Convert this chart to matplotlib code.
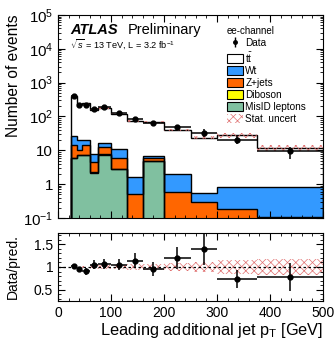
import numpy as np
import matplotlib
matplotlib.use('Agg')
from matplotlib import pyplot as plt
from matplotlib.patches import Patch
from matplotlib.ticker import FixedLocator, MultipleLocator, FuncFormatter, LogLocator, NullFormatter

plt.rcParams['font.family'] = ['Liberation Sans', 'DejaVu Sans']
plt.rcParams['mathtext.fontset'] = 'custom'
plt.rcParams['mathtext.rm'] = 'Liberation Sans'
plt.rcParams['mathtext.it'] = 'Liberation Sans:italic'
plt.rcParams['mathtext.bf'] = 'Liberation Sans:bold'
plt.rcParams['hatch.linewidth'] = 0.5

# bin edges in GeV
edges = np.array([25, 35, 45, 60, 75, 100, 130, 160, 200, 250, 300, 375, 500])

# stacked backgrounds (events per bin)
misid = np.array([5.8, 7.2, 7.2, 2.2, 7.5, 2.8, 0, 4.9, 0, 0, 0, 0])
diboson = np.array([0.1, 0.1, 0.1, 0.05, 0.1, 0.05, 0.02, 0.05, 0.02, 0.01, 0.01, 0.01])
zjets = np.array([8.6, 3.1, 7.4, 2.15, 4.7, 3.0, 0.48, 0.85, 0.58, 0.28, 0.18, 0.1])
wt = np.array([12.5, 9.6, 5.3, 3.4, 4.2, 5.0, 1.15, 1.1, 1.38, 0.25, 0.66, 0.74])
ttbar = np.array([368, 211, 225, 153, 161, 111, 71, 61, 38, 23.1, 27.1, 11.1])
stat_rel = np.array([0.03, 0.03, 0.03, 0.04, 0.04, 0.05, 0.06, 0.07, 0.08, 0.10, 0.15, 0.18])

# data
data = np.array([400, 221, 221, 168, 189, 128, 83, 65, 48, 33, 20.7, 9.3])
data_err = np.array([20, 11.5, 17, 16, 18, 14.6, 11.7, 10.2, 9.6, 8.5, 5.6, 3.6])

centers = 0.5 * (edges[1:] + edges[:-1])
halfw = 0.5 * (edges[1:] - edges[:-1])

c1 = misid
c2 = c1 + diboson
c3 = c2 + zjets
c4 = c3 + wt
pred = c4 + ttbar

fig = plt.figure(figsize=(3.36, 3.42), dpi=100)
ax = fig.add_axes([0.1726, 0.3626, 0.789, 0.5936])
rx = fig.add_axes([0.1726, 0.1199, 0.789, 0.1988])

base = 1e-3
layers = [(pred, 'white'), (c4, '#3399ff'), (c3, '#ff6600'), (c2, '#ffff00'), (c1, '#80c0a0')]
for vals, col in layers:
    v = np.where(vals > 0, vals, base)
    ax.stairs(v, edges, baseline=base, fill=True, color=col, zorder=1)
    ax.stairs(v, edges, baseline=base, fill=False, color='k', lw=1.0, zorder=2)

# stat. uncertainty band
ax.stairs(pred * (1 + stat_rel), edges, baseline=pred * (1 - stat_rel), fill=True,
          facecolor='none', edgecolor='#e07070', hatch='xxxx', lw=0, zorder=3)

ax.errorbar(centers, data, xerr=halfw, yerr=data_err, fmt='o', ms=3.5, color='k',
            elinewidth=1.1, capsize=0, zorder=5)

ax.set_yscale('log')
ax.set_ylim(0.1, 1e5)
ax.set_xlim(0, 500)

def logfmt(v, pos):
    e = int(round(np.log10(v)))
    if e == 0:
        return '1'
    if e == 1:
        return '10'
    return r'10$^{%d}$' % e

ax.yaxis.set_major_locator(FixedLocator([0.1, 1, 10, 100, 1e3, 1e4, 1e5]))
ax.yaxis.set_major_formatter(FuncFormatter(logfmt))
ax.yaxis.set_minor_locator(LogLocator(base=10, subs=np.arange(2, 10), numticks=20))
ax.yaxis.set_minor_formatter(NullFormatter())
ax.xaxis.set_major_locator(MultipleLocator(100))
ax.xaxis.set_minor_locator(MultipleLocator(20))
ax.set_xticklabels([])

for a in (ax, rx):
    a.tick_params(which='both', direction='in', top=True, right=True, labelsize=10)
    a.tick_params(which='major', length=5, width=0.8)
    a.tick_params(which='minor', length=2.5, width=0.6)
ax.tick_params(axis='y', labelsize=10.8)

ax.set_ylabel('Number of events', fontsize=11.2, loc='top', labelpad=1)

ax.text(0.045, 0.925, 'ATLAS', transform=ax.transAxes, fontsize=10.5, fontweight='bold',
        style='italic', va='center')
ax.text(0.265, 0.925, 'Preliminary', transform=ax.transAxes, fontsize=10.5, va='center')
ax.text(0.045, 0.855, r'$\sqrt{s}$ = 13 TeV, L = 3.2 fb$^{-1}$', transform=ax.transAxes,
        fontsize=6.6, va='center')

h_data = ax.errorbar([], [], yerr=[], fmt='o', ms=2.5, color='k', elinewidth=1, capsize=0)
handles = [h_data,
           Patch(facecolor='white', edgecolor='k', lw=0.8),
           Patch(facecolor='#3399ff', edgecolor='k', lw=0.8),
           Patch(facecolor='#ff6600', edgecolor='k', lw=0.8),
           Patch(facecolor='#ffff00', edgecolor='k', lw=0.8),
           Patch(facecolor='#80c0a0', edgecolor='k', lw=0.8),
           Patch(facecolor='none', edgecolor='#e07070', hatch='xxxx', lw=0)]
labels = ['Data', r't$\bar{\rm t}$', 'Wt', 'Z+jets', 'Diboson', 'MisID leptons', 'Stat. uncert']
leg = ax.legend(handles, labels, title='ee-channel', loc='upper left',
                bbox_to_anchor=(0.61, 0.98), frameon=False, fontsize=7.2,
                title_fontsize=7.0, handlelength=1.6, handleheight=0.9,
                labelspacing=0.2, handletextpad=0.25, borderpad=0.2)
leg._legend_box.align = 'left'

# ratio panel
rx.stairs(1 + stat_rel, edges, baseline=1 - stat_rel, fill=True, facecolor='none',
          edgecolor='#e07070', hatch='xxxx', lw=0, zorder=1)
rx.axhline(1, color='k', ls=(0, (2, 2)), lw=0.9, zorder=2)
rx.errorbar(centers, data / pred, xerr=halfw, yerr=data_err / pred, fmt='o', ms=3.5,
            color='k', elinewidth=1.1, capsize=0, zorder=5)
rx.set_xlim(0, 500)
rx.set_ylim(0.25, 1.75)
rx.yaxis.set_major_locator(FixedLocator([0.5, 1, 1.5]))
rx.yaxis.set_major_formatter(FuncFormatter(lambda v, p: '%g' % v))
rx.yaxis.set_minor_locator(MultipleLocator(0.1))
rx.xaxis.set_major_locator(MultipleLocator(100))
rx.xaxis.set_minor_locator(MultipleLocator(20))
rx.set_ylabel('Data/pred.', fontsize=10)
rx.yaxis.set_label_coords(-0.145, 0.5)
rx.set_xlabel(r'Leading additional jet p$_{\rm T}$ [GeV]', fontsize=11.8, loc='right',
              labelpad=1)

fig.savefig('out.png', dpi=100)
